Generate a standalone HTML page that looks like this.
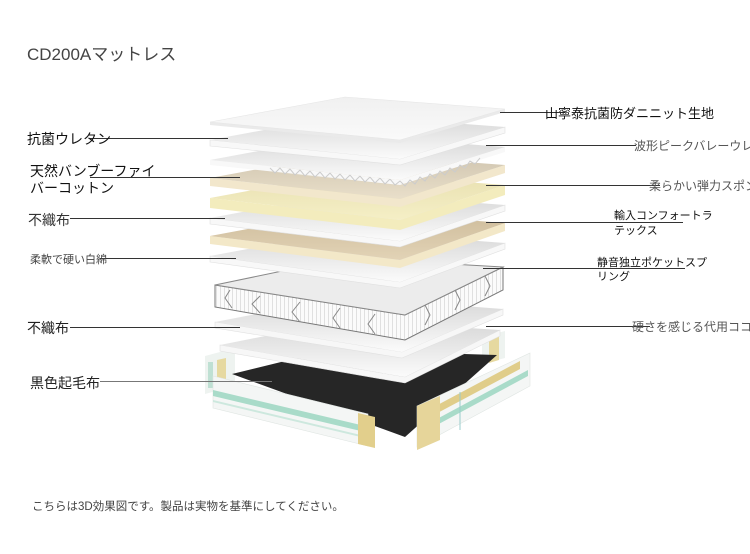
<!DOCTYPE html>
<html><head><meta charset="utf-8"><style>
html,body{margin:0;padding:0;background:#fff;width:750px;height:554px;overflow:hidden}
svg{display:block}
text{font-family:"Liberation Sans","Noto Sans CJK JP",sans-serif}
</style></head><body>
<svg width="750" height="554" viewBox="0 0 750 554" xmlns="http://www.w3.org/2000/svg">
<defs>
<linearGradient id="wt" x1="0" y1="0" x2="0" y2="1"><stop offset="0" stop-color="#d6d6d6"/><stop offset="0.6" stop-color="#ececec"/><stop offset="1" stop-color="#fbfbfb"/></linearGradient>
<linearGradient id="cv" x1="0" y1="0" x2="0" y2="1"><stop offset="0" stop-color="#f0f0f0"/><stop offset="1" stop-color="#fafafa"/></linearGradient>
<linearGradient id="bg" x1="0" y1="0" x2="0" y2="1"><stop offset="0" stop-color="#cfc4ae"/><stop offset="1" stop-color="#e9dfca"/></linearGradient>
<linearGradient id="yl" x1="0" y1="0" x2="0" y2="1"><stop offset="0" stop-color="#e8e0b0"/><stop offset="1" stop-color="#f5efc6"/></linearGradient>
<linearGradient id="tn" x1="0" y1="0" x2="0" y2="1"><stop offset="0" stop-color="#cdbb9a"/><stop offset="1" stop-color="#e2d3b6"/></linearGradient>
<pattern id="sp" width="4" height="10" patternUnits="userSpaceOnUse"><rect width="4" height="10" fill="#fbfbfb"/><rect width="1" height="10" fill="#e0e0e0"/></pattern>
</defs>

<text x="27" y="60" font-size="17" fill="#444">CD200Aマットレス</text>

<!-- frame back posts -->
<polygon points="205,356 235,348 235,386 205,394" fill="#eef3f0"/>
<rect x="208" y="362" width="5" height="26" fill="#bfe0d3"/>
<polygon points="217,360 226,358 226,388 217,390" fill="#e6d9a0"/>
<polygon points="482,337 505,331 505,358 482,364" fill="#eef3f0"/>
<polygon points="489,339 499,336 499,360 489,363" fill="#e6d9a0"/>

<!-- black base -->
<polygon points="232,374 330,350 497,355 405,437" fill="#262626"/>

<!-- layer 11 -->
<polygon points="220,345 405,377 500,330 500,336 405,383 220,351" fill="#f7f7f7" stroke="#e0e0e0" stroke-width="0.6"/>
<polygon points="220,345 345,320 500,330 405,377" fill="url(#wt)"/>
<!-- layer 10 -->
<polygon points="215,322 402,352 503,309 503,315 402,358 215,328" fill="#f7f7f7" stroke="#e0e0e0" stroke-width="0.6"/>
<polygon points="215,322 345,297 503,309 402,352" fill="url(#wt)"/>

<!-- front rails -->
<polygon points="213,376 368,414 368,446 213,408" fill="#f4f6f5" stroke="#dfe5e2" stroke-width="0.6"/>
<polygon points="213,390 365,426 365,432 213,396" fill="#a9dbc9"/>
<polygon points="213,400 365,436 365,438 213,402" fill="#cde8de"/>
<polygon points="358,413 375,417 375,448 358,444" fill="#e2cf8c"/>
<polygon points="417,406 530,353 530,386 417,447" fill="#f4f6f5" stroke="#dfe5e2" stroke-width="0.6"/>
<polygon points="430,409 520,361 520,369 430,417" fill="#e0cd8a"/>
<polygon points="435,420 528,370 528,376 435,426" fill="#a9dbc9"/>
<polygon points="417,406 440,396 440,440 417,450" fill="#e6d59a"/>
<line x1="460" y1="392" x2="460" y2="430" stroke="#9cc" stroke-width="1"/>

<!-- spring -->
<polygon points="215,285 405,315 503,267 503,290 405,340 215,307" fill="url(#sp)" stroke="#777" stroke-width="1"/>
<polygon points="215,285 345,258 503,267 405,315" fill="#ececec" stroke="#888" stroke-width="1"/>
<g stroke="#888" fill="none" stroke-width="1">
<polyline points="230,290 225,298 232,308"/><polyline points="260,296 252,304 260,313"/><polyline points="300,302 292,312 300,322"/><polyline points="340,308 333,318 340,328"/><polyline points="375,314 368,324 375,334"/>
<polyline points="425,305 430,315 425,325"/><polyline points="455,290 460,300 455,310"/><polyline points="485,276 490,286 485,296"/>
</g>

<!-- layer 8 -->
<polygon points="210,256 400,282 505,243 505,249 400,288 210,262" fill="#f8f8f8" stroke="#e0e0e0" stroke-width="0.6"/>
<polygon points="210,256 345,231 505,243 400,282" fill="url(#wt)"/>
<!-- layer 7 tan -->
<polygon points="210,236 400,260 505,223 505,231 400,268 210,244" fill="#f3e8c8"/>
<polygon points="210,236 345,211 505,223 400,260" fill="url(#tn)"/>
<!-- layer 6 -->
<polygon points="210,218 400,241 505,205 505,211 400,247 210,224" fill="#f8f8f8" stroke="#e0e0e0" stroke-width="0.6"/>
<polygon points="210,218 345,193 505,205 400,241" fill="url(#wt)"/>
<!-- layer 5 yellow -->
<polygon points="210,198 400,220 505,185 505,195 400,230 210,208" fill="#f3ecbd"/>
<polygon points="210,198 345,173 505,185 400,220" fill="url(#yl)"/>
<!-- layer 4 beige -->
<polygon points="210,178 400,199 505,165 505,173 400,207 210,186" fill="#f2e7cc"/>
<polygon points="210,178 345,153 505,165 400,199" fill="url(#bg)"/>
<!-- layer 3 wavy -->
<polygon points="210,160 400,180 505,147 505,152 400,185 210,165" fill="#f8f8f8"/>
<polyline points="270,168 275,173 280,168 285,174 290,169 295,175 300,170 305,176 310,171 315,177 320,172 325,178 330,173 335,179 340,174 345,180 350,175 355,181 360,176 365,182 370,177 375,183 380,178 385,184 390,179 395,185 400,181 405,186 410,180 415,184 420,177 425,181 430,174 435,178 440,171 445,175 450,168 455,172 460,165 465,168 470,161 475,164 480,158" fill="none" stroke="#ccc" stroke-width="1"/>
<polygon points="210,160 345,135 505,147 400,180" fill="url(#wt)"/>
<!-- layer 2 -->
<polygon points="210,140 400,159 505,127 505,133 400,165 210,146" fill="#f8f8f8" stroke="#e0e0e0" stroke-width="0.6"/>
<polygon points="210,140 345,115 505,127 400,159" fill="url(#wt)"/>
<!-- layer 1 cover -->
<polygon points="210,122 400,140 505,109 505,112 400,143 210,125" fill="#eaeaea"/>
<polygon points="210,122 345,97 505,109 400,140" fill="url(#cv)" stroke="#e6e6e6" stroke-width="0.6"/>

<!-- left labels -->
<g stroke="#333" stroke-width="1">
<line x1="90" y1="138.5" x2="228" y2="138.5"/>
<line x1="90" y1="177.5" x2="240" y2="177.5"/>
<line x1="70" y1="218.5" x2="225" y2="218.5"/>
<line x1="100" y1="258.5" x2="236" y2="258.5"/>
<line x1="70" y1="327.5" x2="240" y2="327.5"/>
<line x1="100" y1="381.5" x2="272" y2="381.5" stroke="#777"/>
</g>
<text x="27" y="144" font-size="14" fill="#111">抗菌ウレタン</text>
<text x="30" y="176" font-size="14" fill="#111">天然バンブーファイ</text>
<text x="30" y="193" font-size="14" fill="#111">バーコットン</text>
<text x="28" y="225" font-size="14" fill="#333">不織布</text>
<text x="30" y="263" font-size="11" fill="#444">柔軟で硬い白綿</text>
<text x="27" y="333" font-size="14" fill="#222">不織布</text>
<text x="30" y="388" font-size="14" fill="#222">黒色起毛布</text>

<!-- right labels -->
<g stroke="#333" stroke-width="1">
<line x1="500" y1="112.5" x2="565" y2="112.5"/>
<line x1="486" y1="145.5" x2="636" y2="145.5"/>
<line x1="486" y1="185.5" x2="660" y2="185.5"/>
<line x1="486" y1="222.5" x2="683" y2="222.5"/>
<line x1="483" y1="268.5" x2="685" y2="268.5"/>
<line x1="486" y1="326.5" x2="650" y2="326.5"/>
</g>
<text x="545" y="118" font-size="13" fill="#111">山寧泰抗菌防ダニニット生地</text>
<text x="634" y="150" font-size="12" fill="#555">波形ピークバレーウレ</text>
<text x="649" y="190" font-size="12" fill="#555">柔らかい弾力スポン</text>
<text x="614" y="219" font-size="11" fill="#111">輸入コンフォートラ</text>
<text x="614" y="234" font-size="11" fill="#111">テックス</text>
<text x="597" y="266" font-size="11" fill="#111">静音独立ポケットスプ</text>
<text x="597" y="280" font-size="11" fill="#111">リング</text>
<text x="632" y="331" font-size="12" fill="#555">硬さを感じる代用ココ</text>

<text x="32" y="510" font-size="11.5" fill="#444">こちらは3D効果図です。製品は実物を基準にしてください。</text>
</svg>
</body></html>
